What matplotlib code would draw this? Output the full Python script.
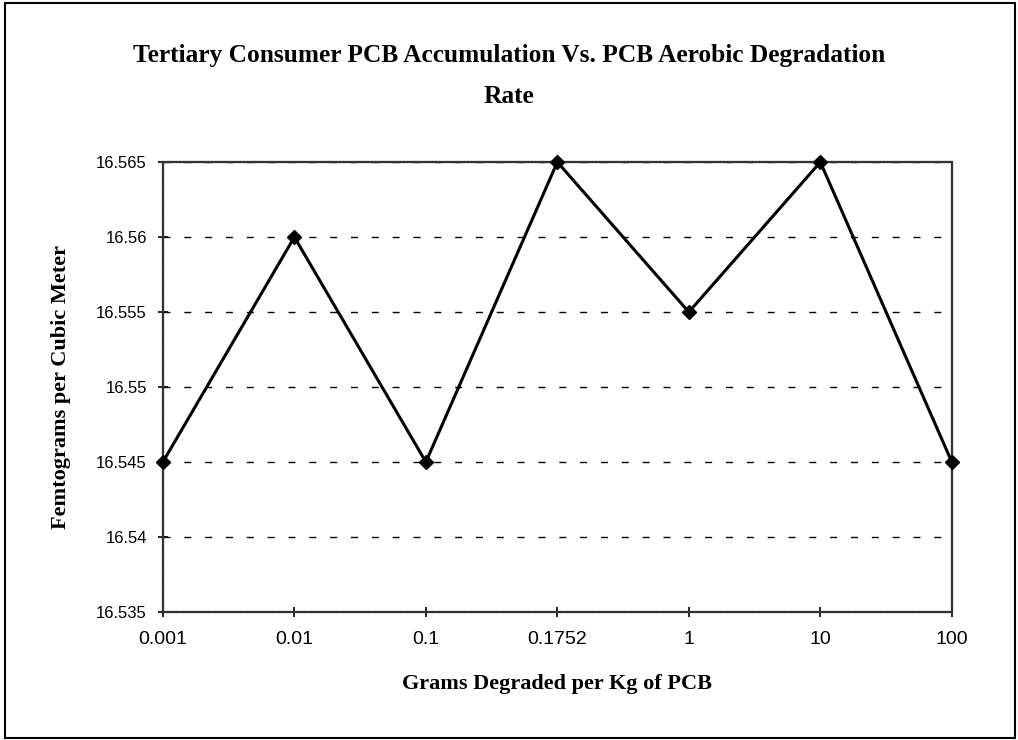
"""Tertiary consumer PCB accumulation vs aerobic degradation rate."""

import matplotlib
matplotlib.use("Agg")
import matplotlib.pyplot as plt
from matplotlib.patches import Rectangle

# data
rates = ["0.001", "0.01", "0.1", "0.1752", "1", "10", "100"]
accumulation = [16.545, 16.56, 16.545, 16.565, 16.555, 16.565, 16.545]
y_ticks = [16.535, 16.54, 16.545, 16.55, 16.555, 16.56, 16.565]
y_labels = ["16.535", "16.54", "16.545", "16.55", "16.555", "16.56", "16.565"]

serif = ["Liberation Serif", "DejaVu Serif"]
sans = ["Liberation Sans", "DejaVu Sans"]

fig = plt.figure(figsize=(10.18, 7.40), dpi=100)
fig.patch.set_facecolor("white")

# outer chart frame
fig.add_artist(Rectangle((0.005, 0.003), 0.992, 0.993, transform=fig.transFigure,
                         fill=False, edgecolor="black", linewidth=1.5))

ax = fig.add_axes([0.160, 0.173, 0.775, 0.608])
x = list(range(len(rates)))
ax.plot(x, accumulation, color="black", linewidth=2.2, marker="D",
        markersize=7, markerfacecolor="black", zorder=3, clip_on=False)

ax.set_xlim(0, len(rates) - 1)
ax.set_ylim(16.535, 16.565)
ax.set_xticks(x)
ax.set_xticklabels(rates, family=sans, fontsize=14)
ax.set_yticks(y_ticks)
ax.set_yticklabels(y_labels, family=sans, fontsize=12)
ax.tick_params(direction="inout", length=7, width=1.2, colors="black", pad=8)
ax.tick_params(axis="x", pad=10)

for s in ax.spines.values():
    s.set_linestyle((0, (1, 0.6)))
    s.set_linewidth(1.6)
    s.set_color("#333333")

ax.yaxis.grid(True, color="black", linestyle=(0, (5, 10)), linewidth=1.0)
ax.set_axisbelow(True)

ax.set_xlabel("Grams Degraded per Kg of PCB", family=serif, fontweight="bold",
              fontsize=16, labelpad=19)
ax.set_ylabel("Femtograms per Cubic Meter", family=serif, fontweight="bold",
              fontsize=16, labelpad=18)

fig.suptitle("Tertiary Consumer PCB Accumulation Vs. PCB Aerobic Degradation\nRate",
             family=serif, fontweight="bold", fontsize=18.3, y=0.94,
             linespacing=2.0)

fig.savefig("out.png", dpi=100, facecolor="white")
